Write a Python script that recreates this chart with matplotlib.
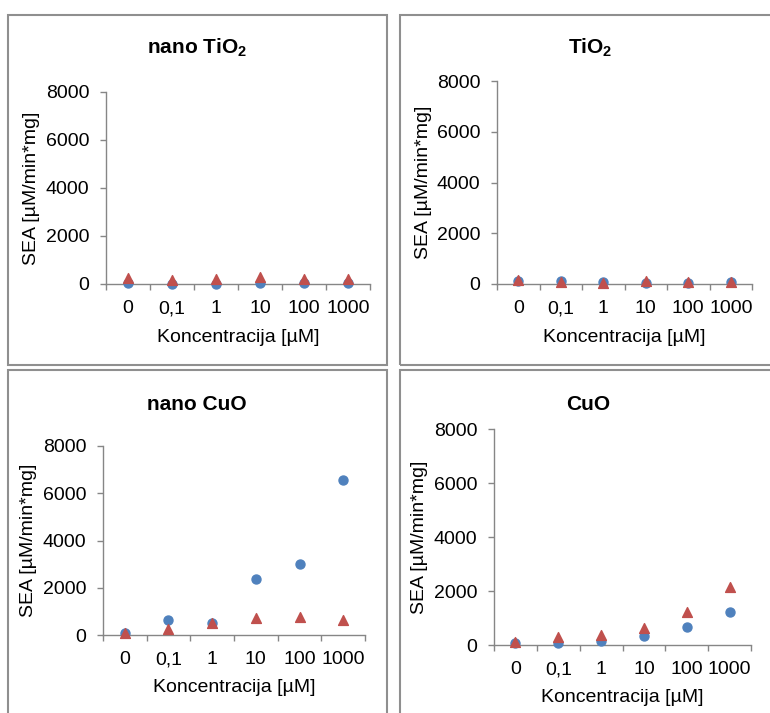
import numpy as np
import matplotlib
matplotlib.use('Agg')
import matplotlib.pyplot as plt
from matplotlib.patches import Rectangle

plt.rcParams['font.family'] = ['Liberation Sans', 'DejaVu Sans']
plt.rcParams['mathtext.fontset'] = 'custom'
plt.rcParams['mathtext.rm'] = 'Liberation Sans'
plt.rcParams['mathtext.bf'] = 'Liberation Sans:bold'

conc_labels = ['0', '0,1', '1', '10', '100', '1000']

titles = [r'nano TiO$_\mathbf{2}$', r'TiO$_\mathbf{2}$', 'nano CuO', 'CuO']

# blue circles / red triangles for each panel
nano_tio2_circ = [30, 20, 20, 50, 40, 30]
nano_tio2_tri = [230, 150, 200, 300, 220, 200]
tio2_circ = [130, 120, 80, 40, 40, 60]
tio2_tri = [150, 60, 40, 100, 70, 90]
nano_cuo_circ = [100, 620, 520, 2360, 2990, 6570]
nano_cuo_tri = [90, 260, 500, 720, 760, 640]
cuo_circ = [60, 90, 150, 340, 680, 1210]
cuo_tri = [120, 310, 360, 620, 1210, 2140]

circ_series = [nano_tio2_circ, tio2_circ, nano_cuo_circ, cuo_circ]
tri_series = [nano_tio2_tri, tio2_tri, nano_cuo_tri, cuo_tri]

W, H = 770, 713
fig = plt.figure(figsize=(W / 100, H / 100), dpi=100)

# pixel layout: (x_left, x_right, y_zero, y_top) of plot area
axes_px = [(106, 370, 284, 92), (497, 752, 284, 81),
           (103, 365, 635, 446), (494, 751, 645, 429)]
title_px = [(197, 48), (590, 48), (197, 404), (588, 404)]
ylab_x = [32, 423, 29, 420]
xlab_y = [337, 337, 688, 698]
boxes_px = [(8, 15, 387, 365), (400, 15, 780, 365),
            (8, 370, 387, 730), (400, 370, 780, 730)]

grey = '#868686'
blue = '#4F81BD'
red = '#C0504D'

for bx in boxes_px:
    x0, y0, x1, y1 = bx
    fig.patches.append(Rectangle((x0 / W, 1 - y1 / H), (x1 - x0) / W, (y1 - y0) / H,
                                 transform=fig.transFigure, fill=False,
                                 edgecolor='#8f8f8f', linewidth=1.5))

x = np.arange(len(conc_labels))
for i in range(4):
    xl, xr, yz, yt = axes_px[i]
    h = yz - yt
    ax = fig.add_axes([xl / W, 1 - yz / H, (xr - xl) / W, h / H])
    ax.patch.set_alpha(0)
    ax.scatter(x, circ_series[i], s=42, color=blue, zorder=3, clip_on=False)
    ax.scatter(x, tri_series[i], s=50, marker='^', color=red, zorder=4, clip_on=False)
    ax.set_xlim(-0.5, 5.5)
    ax.set_ylim(0, 8000)
    ax.set_yticks([0, 2000, 4000, 6000, 8000])
    ax.set_xticks(x)
    ax.set_xticks(np.arange(-0.5, 6.0, 1.0), minor=True)
    ax.tick_params(axis='x', which='major', length=0, pad=21, labelsize=14)
    ax.tick_params(axis='x', which='minor', length=4, width=1, color=grey, direction='out')
    ax.tick_params(axis='y', length=4, width=1, color=grey, pad=8, labelsize=14)
    ax.set_xticklabels(conc_labels)
    for lab in ax.get_xticklabels():
        lab.set_va('baseline')
    for s in ['top', 'right']:
        ax.spines[s].set_visible(False)
    for s in ['left', 'bottom']:
        ax.spines[s].set_color(grey)
        ax.spines[s].set_linewidth(1)
    ax.set_ylabel('SEA [µM/min*mg]', fontsize=14, va='center')
    ax.yaxis.set_label_coords((ylab_x[i] - xl) / (xr - xl), 0.5)
    ax.set_xlabel('Koncentracija [µM]', fontsize=14, va='center')
    ax.xaxis.set_label_coords(0.5, -(xlab_y[i] - yz) / h)
    tx, ty = title_px[i]
    fig.text(tx / W, 1 - ty / H, titles[i], fontsize=15, fontweight='bold',
             ha='center', va='center')

fig.savefig('out.png', dpi=100)
